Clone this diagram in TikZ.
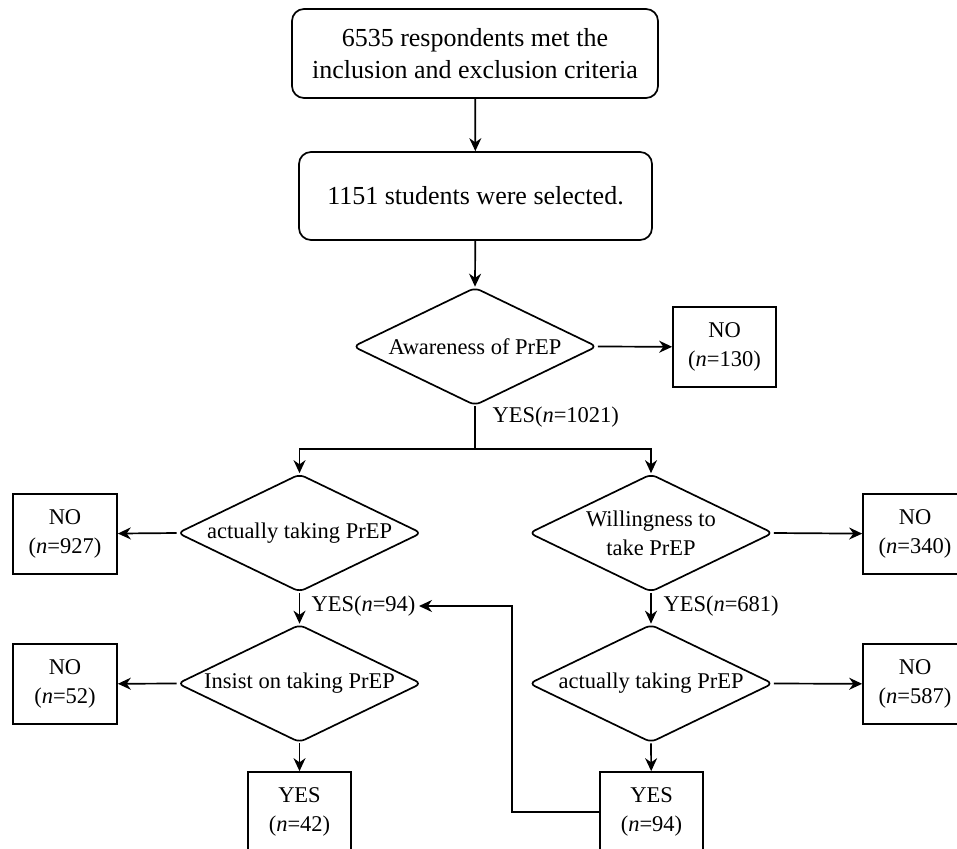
\documentclass[tikz,border=0pt]{standalone}
\usepackage{fontspec}
\setmainfont{Liberation Serif}
\usetikzlibrary{shapes.geometric,arrows.meta}

\begin{document}
\begin{tikzpicture}[x=1pt,y=-1pt,font=\fontsize{22.5}{29}\selectfont,
    start/.style={draw,rounded corners=12pt,line width=1.7pt,align=center,minimum width=366pt,minimum height=89pt,font=\fontsize{26}{32}\selectfont},
    decision/.style={draw,diamond,rounded corners=6pt,line width=1.7pt,inner sep=0pt,minimum width=244pt,minimum height=118pt},
    result/.style={draw,line width=1.7pt,align=center,minimum width=104pt,minimum height=80pt},
    arr/.style={line width=1.7pt,-{Stealth[length=13pt,width=12pt]}}]

        \useasboundingbox (0, 0) rectangle (957, 848);

        \node[start] (crit) at (475, 53.5) {6535 respondents met the\\inclusion and exclusion criteria};
        \node[start,minimum width=353pt,minimum height=88pt] (sel) at (475.5, 196) {1151 students were selected.};

        \node[decision,label=center:{Awareness of PrEP}] (aware) at (475, 346.5) {};
        \node[result,minimum width=103pt] (no130) at (724.5, 347) {NO\\(\textit{n}=130)};

        \node[decision,label=center:{actually taking PrEP}] (take) at (299.5, 533) {};
        \node[decision,label={[align=center]center:Willingness to\\take PrEP}] (will) at (651, 533) {};
        \node[result] (no927) at (65, 534) {NO\\(\textit{n}=927)};
        \node[result] (no340) at (915, 534) {NO\\(\textit{n}=340)};

        \node[decision,label=center:{Insist on taking PrEP}] (insist) at (299.5, 683.5) {};
        \node[decision,label=center:{actually taking PrEP}] (act) at (651, 683.5) {};
        \node[result] (no52) at (65, 684) {NO\\(\textit{n}=52)};
        \node[result] (no587) at (915, 684) {NO\\(\textit{n}=587)};

        \node[result,minimum width=103pt] (yes42) at (299.5, 812) {YES\\(\textit{n}=42)};
        \node[result,minimum width=103pt] (yes94) at (651.5, 812) {YES\\(\textit{n}=94)};

        \node[anchor=west] (lbl1021) at (489, 417) {YES(\textit{n}=1021)};
        \node[anchor=west] (lbl94) at (308, 606) {YES(\textit{n}=94)};
        \node[anchor=west] (lbl681) at (660, 606) {YES(\textit{n}=681)};

        \coordinate (split) at (475, 449);
        \coordinate (turn) at (512, 606);

        \draw[arr] (crit) -- (sel);
        \draw[arr] (sel) -- (aware.north);
        \draw[arr] (aware.east) -- (no130);
        \draw[line width=1.7pt] (aware.south) -- (split);
        \draw[arr] (split) -| (take.north);
        \draw[arr] (split) -| (will.north);

        \draw[arr] (take.west) -- (no927);
        \draw[arr] (will.east) -- (no340);
        \draw[arr] (take.south) -- (insist.north);
        \draw[arr] (will.south) -- (act.north);

        \draw[arr] (insist.west) -- (no52);
        \draw[arr] (act.east) -- (no587);
        \draw[arr] (insist.south) -- (yes42);
        \draw[arr] (act.south) -- (yes94);

        \draw[arr] (yes94.west) -| (turn) -- (lbl94.east);
      \end{tikzpicture}
\end{document}
